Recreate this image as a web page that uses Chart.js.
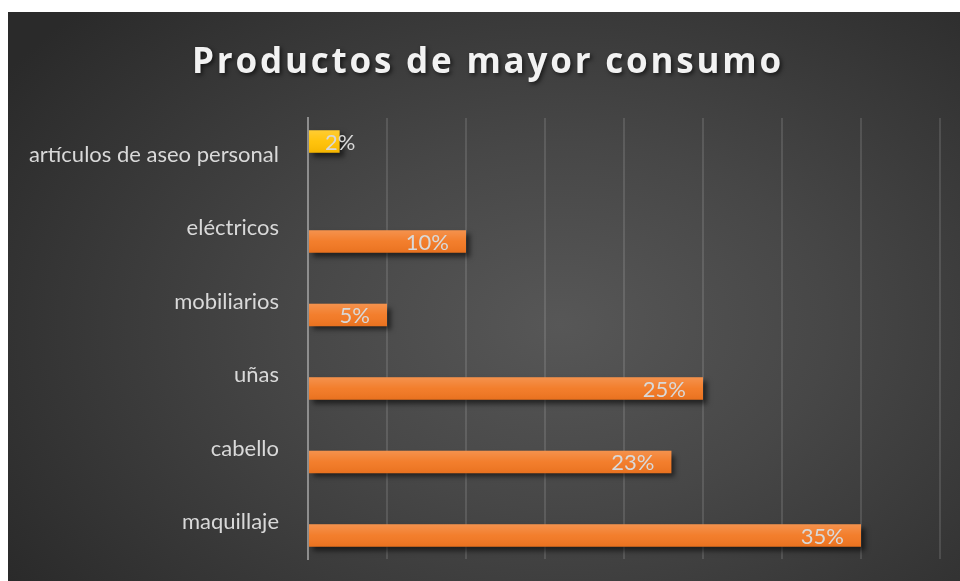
<!DOCTYPE html>
<html>
<head>
<meta charset="utf-8">
<script src="https://cdn.jsdelivr.net/npm/chart.js@4.4.0/dist/chart.umd.min.js"></script>
<style>
    body {
        margin: 0;
        background: #ffffff;
    }
    #panel {
        position: absolute;
        left: 8px;
        top: 12px;
        width: 952px;
        height: 569px;
        background: radial-gradient(ellipse 70% 80% at 58% 55%, #575757 0%, #474747 40%, #2a2a2a 100%);
    }
</style>
</head>
<body>
<div id="panel"><canvas id="consumo_chart"></canvas></div>
<script>
const chartTitle = "Productos de mayor consumo"
const categories = [
    "artículos de aseo personal",
    "eléctricos",
    "mobiliarios",
    "uñas",
    "cabello",
    "maquillaje",
]
// the top category sits in its own (yellow) series, as in the original sheet
const seriesAseo = [2, null, null, null, null, null]
const seriesOtros = [null, 10, 5, 25, 23, 35]
const xTicks = [0, 5, 10, 15, 20, 25, 30, 35, 40]

const labelColor = "#d9d9d9"

function main() {
    new Chart(document.getElementById("consumo_chart"), {
        type: "bar",
        data: {
            labels: categories,
            datasets: [
                {
                    label: "aseo",
                    data: seriesAseo,
                    backgroundColor: "#ffc000",
                },
                {
                    label: "otros",
                    data: seriesOtros,
                    backgroundColor: "#f27721",
                },
            ],
        },
        options: {
            indexAxis: "y",
            responsive: true,
            maintainAspectRatio: false,
            animation: false,
            categoryPercentage: 0.72,
            barPercentage: 0.85,
            layout: {
                padding: { top: 106, right: 20, bottom: 22, left: 0 },
            },
            scales: {
                x: {
                    min: xTicks[0],
                    max: xTicks[xTicks.length - 1],
                    afterBuildTicks: (scale) => {
                        scale.ticks = xTicks.map((v) => ({ value: v }))
                    },
                    afterFit: (scale) => {
                        scale.height = 0
                    },
                    ticks: { display: false },
                    grid: {
                        color: "rgba(255,255,255,0.12)",
                        lineWidth: 2,
                        drawTicks: false,
                    },
                    border: { display: false },
                },
                y: {
                    afterFit: (scale) => {
                        // fixed axis position, no extra room for the edge labels
                        scale.width = 300
                        scale.paddingTop = 0
                        scale.paddingBottom = 0
                    },
                    grid: { display: false, drawTicks: false },
                    border: {
                        display: true,
                        color: "#8e8e8e",
                        width: 2,
                    },
                    ticks: {
                        color: labelColor,
                        padding: 29,
                        font: { family: "Lato", size: 22 },
                    },
                },
            },
            plugins: {
                legend: { display: false },
                tooltip: { enabled: false },
            },
        },
        plugins: [barShadow, barShine, valueLabels, titleDraw],
    })
}

// shadow under the bars
const barShadow = {
    id: "barShadow",
    beforeDatasetsDraw(chart) {
        const ctx = chart.ctx
        ctx.save()
        ctx.shadowColor = "rgba(0,0,0,0.55)"
        ctx.shadowBlur = 5
        ctx.shadowOffsetX = 4
        ctx.shadowOffsetY = 4
    },
    afterDatasetsDraw(chart) {
        chart.ctx.restore()
    },
}

// light to dark gradient on every bar
const barShine = {
    id: "barShine",
    afterDatasetsDraw(chart) {
        const ctx = chart.ctx
        chart.data.datasets.forEach((ds, i) => {
            chart.getDatasetMeta(i).data.forEach((bar, j) => {
                if (ds.data[j] == null) return
                const top = bar.y - bar.height / 2
                const g = ctx.createLinearGradient(0, top, 0, top + bar.height)
                g.addColorStop(0, "rgba(255,255,255,0.2)")
                g.addColorStop(0.5, "rgba(255,255,255,0.05)")
                g.addColorStop(1, "rgba(120,40,0,0.08)")
                ctx.fillStyle = g
                ctx.fillRect(bar.base, top, bar.x - bar.base, bar.height)
            })
        })
    },
}

const valueLabels = {
    id: "valueLabels",
    afterDatasetsDraw(chart) {
        const ctx = chart.ctx
        ctx.save()
        ctx.font = "22px Lato"
        ctx.fillStyle = labelColor
        ctx.textAlign = "right"
        ctx.textBaseline = "middle"
        chart.data.datasets.forEach((ds, i) => {
            chart.getDatasetMeta(i).data.forEach((bar, j) => {
                const v = ds.data[j]
                if (v == null) return
                const text = v + "%"
                const w = ctx.measureText(text).width
                const x = Math.max(bar.x - 17, bar.base + w + 16)
                ctx.fillText(text, x, bar.y + 1)
            })
        })
        ctx.restore()
    },
}

const titleDraw = {
    id: "titleDraw",
    afterDraw(chart) {
        const ctx = chart.ctx
        ctx.save()
        ctx.font = "bold 35px 'Open Sans'"
        ctx.letterSpacing = "2.8px"
        ctx.textAlign = "center"
        ctx.textBaseline = "alphabetic"
        ctx.shadowColor = "rgba(0,0,0,0.6)"
        ctx.shadowBlur = 4
        ctx.shadowOffsetX = 2
        ctx.shadowOffsetY = 2
        ctx.fillStyle = "#f2f2f2"
        ctx.fillText(chartTitle, chart.width / 2 + 4, 61)
        ctx.restore()
    },
}

document.addEventListener("DOMContentLoaded", main)
</script>
</body>
</html>
